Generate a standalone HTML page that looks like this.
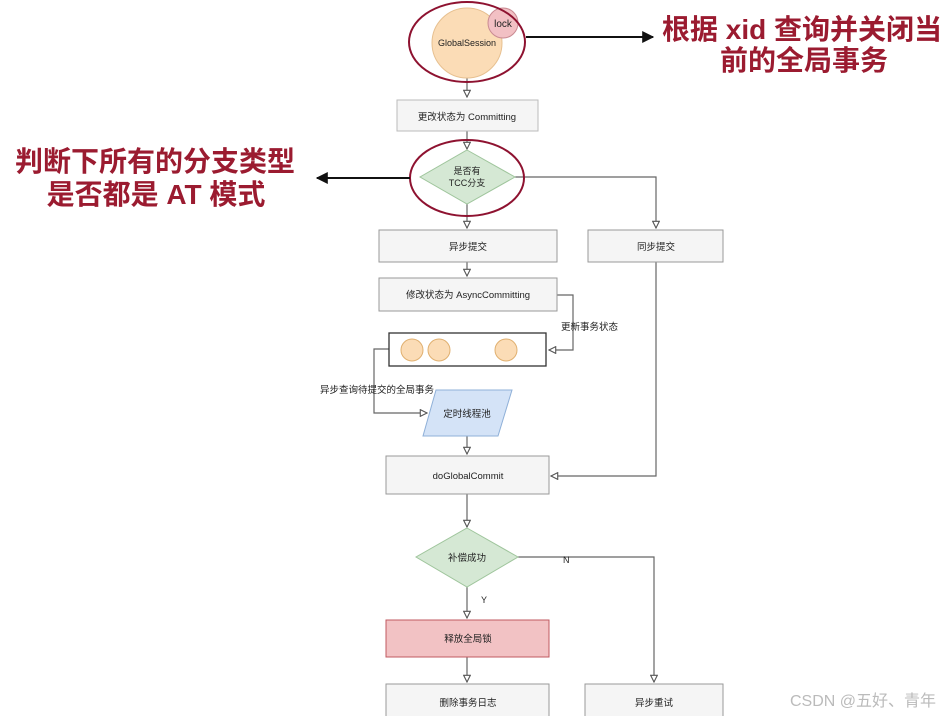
<!DOCTYPE html>
<html><head><meta charset="utf-8"><style>
html,body{margin:0;padding:0;background:#fff;}
svg{display:block;}
text{font-family:"Liberation Sans","Noto Sans CJK SC",sans-serif;}
</style></head><body>
<svg width="948" height="716" viewBox="0 0 948 716" xmlns="http://www.w3.org/2000/svg">
<defs>
<marker id="a" viewBox="0 0 10 10" refX="9" refY="5" markerWidth="7" markerHeight="7" orient="auto"><path d="M1,1 L9,5 L1,9 Z" fill="#fff" stroke="#555" stroke-width="1.3"/></marker>
<marker id="b" viewBox="0 0 10 10" refX="9" refY="5" markerWidth="6" markerHeight="6" orient="auto"><path d="M0,0 L10,5 L0,10 Z" fill="#111"/></marker>
</defs>
<g stroke="#666" stroke-width="1.2" fill="none">
<path d="M467,78 V97" marker-end="url(#a)"/>
<path d="M467,131 V149" marker-end="url(#a)"/>
<path d="M467,204 V228" marker-end="url(#a)"/>
<path d="M515,177 H656 V228" marker-end="url(#a)"/>
<path d="M467,262 V276" marker-end="url(#a)"/>
<path d="M557,295 H573 V350 H549" marker-end="url(#a)"/>
<path d="M389,349 H374 V413 H427" marker-end="url(#a)"/>
<path d="M467,436 V454" marker-end="url(#a)"/>
<path d="M656,262 V476 H551" marker-end="url(#a)"/>
<path d="M467,494 V527" marker-end="url(#a)"/>
<path d="M518,557 H654 V682" marker-end="url(#a)"/>
<path d="M467,587 V618" marker-end="url(#a)"/>
<path d="M467,657 V682" marker-end="url(#a)"/>
</g>
<circle cx="467" cy="43" r="35" fill="#fbdcb6" stroke="#e7c090"/>
<circle cx="503" cy="23" r="15" fill="#f2c0c4" stroke="#c98a92"/>
<text x="503" y="27" font-size="10" text-anchor="middle" fill="#222">lock</text>
<text x="467" y="46" font-size="9" text-anchor="middle" fill="#222">GlobalSession</text>
<ellipse cx="467" cy="42" rx="58" ry="40" fill="none" stroke="#8e1230" stroke-width="2"/>
<path d="M526,37 H653" stroke="#111" stroke-width="2" marker-end="url(#b)"/>
<text x="662" y="39" font-size="28" font-weight="bold" fill="#9b1b30">根据 xid 查询并关闭当</text>
<text x="804" y="70" font-size="28" font-weight="bold" fill="#9b1b30" text-anchor="middle">前的全局事务</text>
<rect x="397" y="100" width="141" height="31" fill="#f5f5f5" stroke="#bbb"/>
<text x="467" y="120" font-size="9.5" text-anchor="middle" fill="#222">更改状态为 Committing</text>
<path d="M467,150 L515,177 L467,204 L420,177 Z" fill="#d5e8d4" stroke="#9fc59c"/>
<text x="467" y="174" font-size="9" text-anchor="middle" fill="#222">是否有</text>
<text x="467" y="186" font-size="9" text-anchor="middle" fill="#222">TCC分支</text>
<ellipse cx="467" cy="178" rx="57" ry="38" fill="none" stroke="#8e1230" stroke-width="2"/>
<path d="M410,178 H317" stroke="#111" stroke-width="2" marker-end="url(#b)"/>
<text x="15" y="171" font-size="28" font-weight="bold" fill="#9b1b30">判断下所有的分支类型</text>
<text x="156" y="204" font-size="28" font-weight="bold" fill="#9b1b30" text-anchor="middle">是否都是 AT 模式</text>
<rect x="379" y="230" width="178" height="32" fill="#f5f5f5" stroke="#999"/>
<text x="468" y="250" font-size="9.5" text-anchor="middle" fill="#222">异步提交</text>
<rect x="588" y="230" width="135" height="32" fill="#f5f5f5" stroke="#999"/>
<text x="656" y="250" font-size="9.5" text-anchor="middle" fill="#222">同步提交</text>
<rect x="379" y="278" width="178" height="33" fill="#f5f5f5" stroke="#999"/>
<text x="468" y="298" font-size="9.5" text-anchor="middle" fill="#222">修改状态为 AsyncCommitting</text>
<text x="561" y="330" font-size="9.5" fill="#222">更新事务状态</text>
<rect x="389" y="333" width="157" height="33" fill="#fff" stroke="#333" stroke-width="1.3"/>
<circle cx="412" cy="350" r="11" fill="#fbdcb6" stroke="#e0b070"/>
<circle cx="439" cy="350" r="11" fill="#fbdcb6" stroke="#e0b070"/>
<circle cx="506" cy="350" r="11" fill="#fbdcb6" stroke="#e0b070"/>
<text x="320" y="393" font-size="9.5" fill="#222">异步查询待提交的全局事务</text>
<path d="M436,390 H512 L498,436 H423 Z" fill="#d4e3f7" stroke="#8fb0d8"/>
<text x="467" y="417" font-size="9.5" text-anchor="middle" fill="#222">定时线程池</text>
<rect x="386" y="456" width="163" height="38" fill="#f5f5f5" stroke="#999"/>
<text x="468" y="479" font-size="9.5" text-anchor="middle" fill="#222">doGlobalCommit</text>
<path d="M467,528 L518,557 L467,587 L416,557 Z" fill="#d5e8d4" stroke="#9fc59c"/>
<text x="467" y="561" font-size="9.5" text-anchor="middle" fill="#222">补偿成功</text>
<text x="563" y="563" font-size="9" fill="#222">N</text>
<text x="481" y="603" font-size="9" fill="#222">Y</text>
<rect x="386" y="620" width="163" height="37" fill="#f2c2c4" stroke="#c05a60"/>
<text x="468" y="642" font-size="9.5" text-anchor="middle" fill="#222">释放全局锁</text>
<rect x="386" y="684" width="163" height="34" fill="#f5f5f5" stroke="#999"/>
<text x="468" y="706" font-size="9.5" text-anchor="middle" fill="#222">删除事务日志</text>
<rect x="585" y="684" width="138" height="34" fill="#f5f5f5" stroke="#999"/>
<text x="654" y="706" font-size="9.5" text-anchor="middle" fill="#222">异步重试</text>
<text x="790" y="706" font-size="16" fill="#bbb">CSDN @五好、青年</text>
</svg>
</body></html>
